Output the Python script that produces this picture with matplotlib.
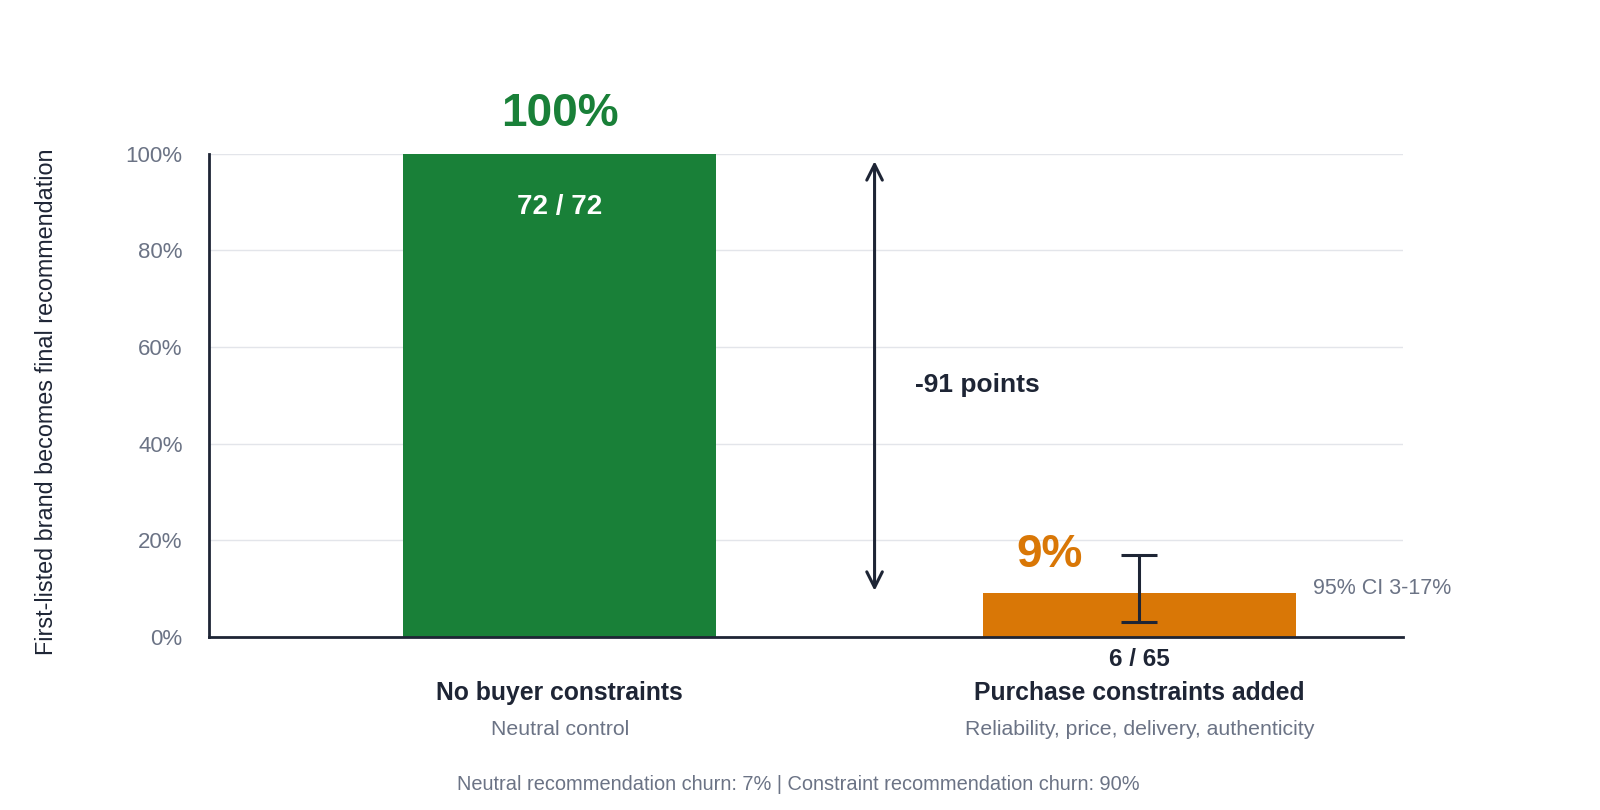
import matplotlib
matplotlib.use("Agg")
import matplotlib.pyplot as plt

plt.rcParams['font.family'] = ['Liberation Sans', 'DejaVu Sans']

# data
categories = ["No buyer constraints", "Purchase constraints added"]
subtitles = ["Neutral control", "Reliability, price, delivery, authenticity"]
rates = [100, 9]
counts = ["72 / 72", "6 / 65"]
ci_low = [None, 3]
ci_high = [None, 17]
yticks = [0, 20, 40, 60, 80, 100]
footer = "Neutral recommendation churn: 7% | Constraint recommendation churn: 90%"

green = "#198038"
orange = "#d97706"
dark = "#1e2535"
gray = "#6b7385"

fig = plt.figure(figsize=(16, 8.1), dpi=100)
ax = fig.add_axes([0.1307, 0.214, 0.7463, 0.596])

x = [0, 1]
ax.bar(x, rates, width=0.54, color=[green, orange], zorder=2)
ax.set_xlim(-0.605, 1.455)
ax.set_ylim(0, 100)

ax.set_yticks(yticks)
ax.set_yticklabels([f"{t}%" for t in yticks], color=gray, fontsize=16)
ax.tick_params(axis='y', length=0, pad=19)
ax.set_xticks([])
ax.grid(axis='y', color="#e3e5ea", linewidth=1, zorder=0)
for s in ["top", "right"]:
    ax.spines[s].set_visible(False)
for s in ["left", "bottom"]:
    ax.spines[s].set_color(dark)
    ax.spines[s].set_linewidth(2)
    ax.spines[s].set_zorder(3)

ax.set_ylabel("First-listed brand becomes final recommendation", fontsize=16.8,
              color=dark, labelpad=49)
ax.yaxis.label.set_y(0.486)

# labels for control bar
ax.text(x[0], 108.2, f"{rates[0]}%", ha='center', va='center',
        fontsize=33, fontweight='bold', color=green, clip_on=False)
ax.text(x[0], rates[0] - 11, counts[0], ha='center', va='center',
        fontsize=20, fontweight='bold', color='white')

# constraint bar
ax.errorbar(x[1], rates[1], yerr=[[rates[1] - ci_low[1]], [ci_high[1] - rates[1]]],
            fmt='none', ecolor=dark, elinewidth=2.2, capsize=13, capthick=2.2, zorder=4)
ax.text(x[1] - 0.155, rates[1] + 8, f"{rates[1]}%", ha='center', va='center',
        fontsize=33, fontweight='bold', color=orange)
ax.text(x[1] + 0.3, rates[1] + 1, f"95% CI {ci_low[1]}-{ci_high[1]}%", ha='left',
        va='center', fontsize=15.5, color=gray)
ax.text(x[1], -4.8, counts[1], ha='center', va='center', fontsize=17.5,
        fontweight='bold', color=dark, clip_on=False)

# difference arrow
ax.annotate("", xy=(0.543, rates[1] + 0.5), xytext=(0.543, rates[0] - 1.5),
            arrowprops=dict(arrowstyle='<->', color=dark, lw=2.2,
                            mutation_scale=28, shrinkA=0, shrinkB=0))
ax.text(0.612, (rates[0] + rates[1]) / 2 - 2.4, f"-{rates[0] - rates[1]} points",
        ha='left', va='center', fontsize=19, fontweight='bold', color=dark)

# category labels
for xi, c, sub in zip(x, categories, subtitles):
    ax.text(xi, -11.6, c, ha='center', va='center', fontsize=17.8,
            fontweight='bold', color=dark, clip_on=False)
    ax.text(xi, -19.2, sub, ha='center', va='center', fontsize=15.3,
            color=gray, clip_on=False)

fig.text(0.499, 0.031, footer, ha='center', va='center',
         fontsize=14.4, color=gray)

fig.savefig("out.png", dpi=100, facecolor='white')
